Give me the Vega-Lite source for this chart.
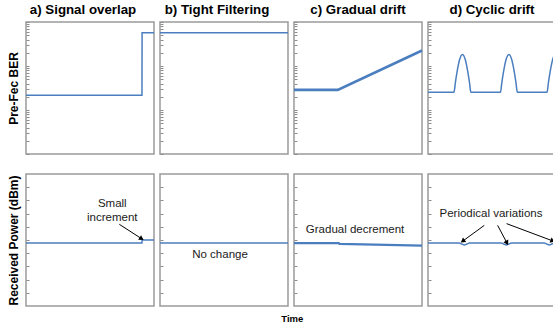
{
  "$schema": "https://vega.github.io/schema/vega-lite/v6.json",
  "padding": {"left": 6, "top": 2, "right": 0, "bottom": 0},
  "title": {"text": "Time", "orient": "bottom", "anchor": "middle", "fontSize": 9.5, "fontWeight": "bold", "offset": 7, "dx": 9, "font": "Liberation Sans", "color": "#000000"},
  "config": {
    "font": "Liberation Sans",
    "view": {"stroke": "#9a9a9a", "strokeWidth": 1.5},
    "title": {"fontSize": 13.3, "fontWeight": "bold", "color": "#000000", "offset": 5, "anchor": "middle", "font": "Liberation Sans"},
    "axisY": {"labels": false, "ticks": true, "tickSize": -3, "tickColor": "#8c8c8c", "tickWidth": 1, "domain": false, "grid": false, "minExtent": 0, "titleFontSize": 12, "titleFontWeight": "bold", "titleFont": "Liberation Sans", "titleColor": "#000000", "titlePadding": 5},
    "text": {"font": "Liberation Sans", "fontSize": 11.5, "color": "#1a1a1a"},
    "line": {"color": "#4a7ebf", "strokeWidth": 1.5}
  },
  "datasets": {
    "ber_a": [{"t": 0, "ber": 2.16e-5}, {"t": 90.6, "ber": 2.16e-5}, {"t": 90.7, "ber": 5.7e-4}, {"t": 100, "ber": 5.7e-4}],
    "ber_b": [{"t": 0, "ber": 5.7e-4}, {"t": 100, "ber": 5.7e-4}],
    "ber_c": [{"t": 0, "ber": 2.87e-5}, {"t": 34.2, "ber": 2.87e-5}, {"t": 100, "ber": 2.25e-4}],
    "ber_d": [
      {"t": 0, "ber": 2.53e-5},
      {"t": 20.3, "ber": 2.53e-5}, {"t": 21.4, "ber": 4.22e-5}, {"t": 22.5, "ber": 6.81e-5}, {"t": 23.6, "ber": 1.02e-4}, {"t": 24.7, "ber": 1.40e-4}, {"t": 25.8, "ber": 1.71e-4}, {"t": 26.9, "ber": 1.83e-4}, {"t": 28.0, "ber": 1.71e-4}, {"t": 29.1, "ber": 1.40e-4}, {"t": 30.2, "ber": 1.02e-4}, {"t": 31.3, "ber": 6.81e-5}, {"t": 32.4, "ber": 4.22e-5}, {"t": 33.5, "ber": 2.53e-5},
      {"t": 56.6, "ber": 2.53e-5}, {"t": 57.7, "ber": 4.22e-5}, {"t": 58.8, "ber": 6.81e-5}, {"t": 59.9, "ber": 1.02e-4}, {"t": 61.0, "ber": 1.40e-4}, {"t": 62.1, "ber": 1.71e-4}, {"t": 63.2, "ber": 1.83e-4}, {"t": 64.3, "ber": 1.71e-4}, {"t": 65.4, "ber": 1.40e-4}, {"t": 66.5, "ber": 1.02e-4}, {"t": 67.6, "ber": 6.81e-5}, {"t": 68.7, "ber": 4.22e-5}, {"t": 69.8, "ber": 2.53e-5},
      {"t": 93.0, "ber": 2.53e-5}, {"t": 94.1, "ber": 4.22e-5}, {"t": 95.2, "ber": 6.81e-5}, {"t": 96.3, "ber": 1.02e-4}, {"t": 97.4, "ber": 1.40e-4}, {"t": 98.5, "ber": 1.71e-4}, {"t": 99.6, "ber": 1.83e-4}, {"t": 100, "ber": 1.82e-4}
    ],
    "pw_a": [{"t": 0, "p": 4.77}, {"t": 90.6, "p": 4.77}, {"t": 90.7, "p": 5.0}, {"t": 100, "p": 5.0}],
    "pw_b": [{"t": 0, "p": 4.77}, {"t": 100, "p": 4.77}],
    "pw_c": [{"t": 0, "p": 4.77}, {"t": 35.0, "p": 4.77}, {"t": 35.5, "p": 4.70}, {"t": 100, "p": 4.58}],
    "pw_d": [
      {"t": 0, "p": 4.77}, {"t": 24.4, "p": 4.77}, {"t": 26.4, "p": 4.70}, {"t": 28.4, "p": 4.63}, {"t": 30.4, "p": 4.70}, {"t": 32.4, "p": 4.77},
      {"t": 57.2, "p": 4.77}, {"t": 59.2, "p": 4.70}, {"t": 61.2, "p": 4.63}, {"t": 63.2, "p": 4.70}, {"t": 65.2, "p": 4.77},
      {"t": 90.8, "p": 4.77}, {"t": 92.8, "p": 4.70}, {"t": 94.8, "p": 4.63}, {"t": 96.8, "p": 4.70}, {"t": 98.8, "p": 4.77}, {"t": 100, "p": 4.77}
    ],
    "lab_a": [{"t": 67.4, "p": 7.73, "label": "Small"}, {"t": 67.4, "p": 6.67, "label": "increment"}],
    "arr_a": [{"t": 72.9, "p": 6.19, "t2": 89.8, "p2": 5.13}],
    "lab_b": [{"t": 46.9, "p": 3.84, "label": "No change"}],
    "lab_c": [{"t": 47.7, "p": 5.79, "label": "Gradual decrement"}],
    "lab_d": [{"t": 49.2, "p": 7.0, "label": "Periodical variations"}],
    "arr_d": [{"id": 1, "t": 44.0, "p": 6.11, "t2": 27.6, "p2": 4.95}, {"id": 2, "t": 54.4, "p": 6.11, "t2": 61.4, "p2": 4.83}, {"id": 3, "t": 61.4, "p": 6.24, "t2": 96.9, "p2": 4.95}]
  },
  "spacing": 17,
  "vconcat": [
    {
      "spacing": 6,
      "bounds": "flush",
      "hconcat": [
        {
          "width": 128, "height": 132,
          "title": {"text": "a) Signal overlap", "dx": -7},
          "data": {"name": "ber_a"},
          "mark": {"type": "line"},
          "encoding": {
            "x": {"field": "t", "type": "quantitative", "scale": {"domain": [0, 100], "nice": false, "zero": false}, "axis": null},
            "y": {"field": "ber", "type": "quantitative", "scale": {"type": "log", "domain": [1e-6, 1e-3], "nice": false}, "axis": {"title": "Pre-Fec BER", "values": [1e-6, 2e-6, 3e-6, 4e-6, 5e-6, 6e-6, 7e-6, 8e-6, 9e-6, 1e-5, 2e-5, 3e-5, 4e-5, 5e-5, 6e-5, 7e-5, 8e-5, 9e-5, 1e-4, 2e-4, 3e-4, 4e-4, 5e-4, 6e-4, 7e-4, 8e-4, 9e-4, 1e-3]}}
          }
        },
        {
          "width": 128, "height": 132,
          "title": {"text": "b) Tight Filtering", "dx": -7},
          "data": {"name": "ber_b"},
          "mark": {"type": "line"},
          "encoding": {
            "x": {"field": "t", "type": "quantitative", "scale": {"domain": [0, 100], "nice": false, "zero": false}, "axis": null},
            "y": {"field": "ber", "type": "quantitative", "scale": {"type": "log", "domain": [1e-6, 1e-3], "nice": false}, "axis": {"title": null, "values": [1e-6, 2e-6, 3e-6, 4e-6, 5e-6, 6e-6, 7e-6, 8e-6, 9e-6, 1e-5, 2e-5, 3e-5, 4e-5, 5e-5, 6e-5, 7e-5, 8e-5, 9e-5, 1e-4, 2e-4, 3e-4, 4e-4, 5e-4, 6e-4, 7e-4, 8e-4, 9e-4, 1e-3]}}
          }
        },
        {
          "width": 128, "height": 132,
          "title": {"text": "c) Gradual drift"},
          "data": {"name": "ber_c"},
          "mark": {"type": "line", "strokeWidth": 2.6},
          "encoding": {
            "x": {"field": "t", "type": "quantitative", "scale": {"domain": [0, 100], "nice": false, "zero": false}, "axis": null},
            "y": {"field": "ber", "type": "quantitative", "scale": {"type": "log", "domain": [1e-6, 1e-3], "nice": false}, "axis": {"title": null, "values": [1e-6, 2e-6, 3e-6, 4e-6, 5e-6, 6e-6, 7e-6, 8e-6, 9e-6, 1e-5, 2e-5, 3e-5, 4e-5, 5e-5, 6e-5, 7e-5, 8e-5, 9e-5, 1e-4, 2e-4, 3e-4, 4e-4, 5e-4, 6e-4, 7e-4, 8e-4, 9e-4, 1e-3]}}
          }
        },
        {
          "width": 128, "height": 132,
          "title": {"text": "d) Cyclic drift"},
          "data": {"name": "ber_d"},
          "mark": {"type": "line", "interpolate": "monotone"},
          "encoding": {
            "x": {"field": "t", "type": "quantitative", "scale": {"domain": [0, 100], "nice": false, "zero": false}, "axis": null},
            "y": {"field": "ber", "type": "quantitative", "scale": {"type": "log", "domain": [1e-6, 1e-3], "nice": false}, "axis": {"title": null, "values": [1e-6, 2e-6, 3e-6, 4e-6, 5e-6, 6e-6, 7e-6, 8e-6, 9e-6, 1e-5, 2e-5, 3e-5, 4e-5, 5e-5, 6e-5, 7e-5, 8e-5, 9e-5, 1e-4, 2e-4, 3e-4, 4e-4, 5e-4, 6e-4, 7e-4, 8e-4, 9e-4, 1e-3]}}
          }
        }
      ]
    },
    {
      "spacing": 6,
      "bounds": "flush",
      "hconcat": [
        {
          "width": 128, "height": 132,
          "layer": [
            {
              "data": {"name": "pw_a"},
              "mark": {"type": "line"},
              "encoding": {
                "x": {"field": "t", "type": "quantitative", "scale": {"domain": [0, 100], "nice": false, "zero": false}, "axis": null},
                "y": {"field": "p", "type": "quantitative", "scale": {"domain": [0, 10], "nice": false, "zero": false}, "axis": {"title": "Received Power (dBm)", "values": [1, 2, 3, 4, 5, 6, 7, 8, 9]}}
              }
            },
            {
              "data": {"name": "lab_a"},
              "mark": {"type": "text", "align": "center", "baseline": "middle"},
              "encoding": {
                "x": {"field": "t", "type": "quantitative", "axis": null},
                "y": {"field": "p", "type": "quantitative", "axis": {"title": "Received Power (dBm)", "values": [1, 2, 3, 4, 5, 6, 7, 8, 9]}},
                "text": {"field": "label"}
              }
            },
            {
              "data": {"name": "arr_a"},
              "mark": {"type": "rule", "color": "#000000", "strokeWidth": 1},
              "encoding": {
                "x": {"field": "t", "type": "quantitative", "axis": null},
                "y": {"field": "p", "type": "quantitative", "axis": {"title": "Received Power (dBm)", "values": [1, 2, 3, 4, 5, 6, 7, 8, 9]}},
                "x2": {"field": "t2"},
                "y2": {"field": "p2"}
              }
            },
            {
              "data": {"name": "arr_a"},
              "mark": {"type": "point", "shape": "triangle", "filled": true, "color": "#000000", "opacity": 1, "size": 30, "angle": 123},
              "encoding": {
                "x": {"field": "t2", "type": "quantitative", "axis": null},
                "y": {"field": "p2", "type": "quantitative", "axis": {"title": "Received Power (dBm)", "values": [1, 2, 3, 4, 5, 6, 7, 8, 9]}}
              }
            }
          ]
        },
        {
          "width": 128, "height": 132,
          "layer": [
            {
              "data": {"name": "pw_b"},
              "mark": {"type": "line"},
              "encoding": {
                "x": {"field": "t", "type": "quantitative", "scale": {"domain": [0, 100], "nice": false, "zero": false}, "axis": null},
                "y": {"field": "p", "type": "quantitative", "scale": {"domain": [0, 10], "nice": false, "zero": false}, "axis": {"title": null, "values": [1, 2, 3, 4, 5, 6, 7, 8, 9]}}
              }
            },
            {
              "data": {"name": "lab_b"},
              "mark": {"type": "text", "align": "center", "baseline": "middle"},
              "encoding": {
                "x": {"field": "t", "type": "quantitative", "axis": null},
                "y": {"field": "p", "type": "quantitative", "axis": {"title": null, "values": [1, 2, 3, 4, 5, 6, 7, 8, 9]}},
                "text": {"field": "label"}
              }
            }
          ]
        },
        {
          "width": 128, "height": 132,
          "layer": [
            {
              "data": {"name": "pw_c"},
              "mark": {"type": "line", "strokeWidth": 2.2},
              "encoding": {
                "x": {"field": "t", "type": "quantitative", "scale": {"domain": [0, 100], "nice": false, "zero": false}, "axis": null},
                "y": {"field": "p", "type": "quantitative", "scale": {"domain": [0, 10], "nice": false, "zero": false}, "axis": {"title": null, "values": [1, 2, 3, 4, 5, 6, 7, 8, 9]}}
              }
            },
            {
              "data": {"name": "lab_c"},
              "mark": {"type": "text", "align": "center", "baseline": "middle"},
              "encoding": {
                "x": {"field": "t", "type": "quantitative", "axis": null},
                "y": {"field": "p", "type": "quantitative", "axis": {"title": null, "values": [1, 2, 3, 4, 5, 6, 7, 8, 9]}},
                "text": {"field": "label"}
              }
            }
          ]
        },
        {
          "width": 128, "height": 132,
          "layer": [
            {
              "data": {"name": "pw_d"},
              "mark": {"type": "line", "interpolate": "monotone"},
              "encoding": {
                "x": {"field": "t", "type": "quantitative", "scale": {"domain": [0, 100], "nice": false, "zero": false}, "axis": null},
                "y": {"field": "p", "type": "quantitative", "scale": {"domain": [0, 10], "nice": false, "zero": false}, "axis": {"title": null, "values": [1, 2, 3, 4, 5, 6, 7, 8, 9]}}
              }
            },
            {
              "data": {"name": "lab_d"},
              "mark": {"type": "text", "align": "center", "baseline": "middle"},
              "encoding": {
                "x": {"field": "t", "type": "quantitative", "axis": null},
                "y": {"field": "p", "type": "quantitative", "axis": {"title": null, "values": [1, 2, 3, 4, 5, 6, 7, 8, 9]}},
                "text": {"field": "label"}
              }
            },
            {
              "data": {"name": "arr_d"},
              "mark": {"type": "rule", "color": "#000000", "strokeWidth": 1},
              "encoding": {
                "x": {"field": "t", "type": "quantitative", "axis": null},
                "y": {"field": "p", "type": "quantitative", "axis": {"title": null, "values": [1, 2, 3, 4, 5, 6, 7, 8, 9]}},
                "x2": {"field": "t2"},
                "y2": {"field": "p2"}
              }
            },
            {
              "data": {"name": "arr_d"},
              "transform": [{"filter": "datum.id == 1"}],
              "mark": {"type": "point", "shape": "triangle", "filled": true, "color": "#000000", "opacity": 1, "size": 30, "angle": 234},
              "encoding": {
                "x": {"field": "t2", "type": "quantitative", "axis": null},
                "y": {"field": "p2", "type": "quantitative", "axis": {"title": null, "values": [1, 2, 3, 4, 5, 6, 7, 8, 9]}}
              }
            },
            {
              "data": {"name": "arr_d"},
              "transform": [{"filter": "datum.id == 2"}],
              "mark": {"type": "point", "shape": "triangle", "filled": true, "color": "#000000", "opacity": 1, "size": 30, "angle": 152},
              "encoding": {
                "x": {"field": "t2", "type": "quantitative", "axis": null},
                "y": {"field": "p2", "type": "quantitative", "axis": {"title": null, "values": [1, 2, 3, 4, 5, 6, 7, 8, 9]}}
              }
            },
            {
              "data": {"name": "arr_d"},
              "transform": [{"filter": "datum.id == 3"}],
              "mark": {"type": "point", "shape": "triangle", "filled": true, "color": "#000000", "opacity": 1, "size": 30, "angle": 110},
              "encoding": {
                "x": {"field": "t2", "type": "quantitative", "axis": null},
                "y": {"field": "p2", "type": "quantitative", "axis": {"title": null, "values": [1, 2, 3, 4, 5, 6, 7, 8, 9]}}
              }
            }
          ]
        }
      ]
    }
  ]
}
